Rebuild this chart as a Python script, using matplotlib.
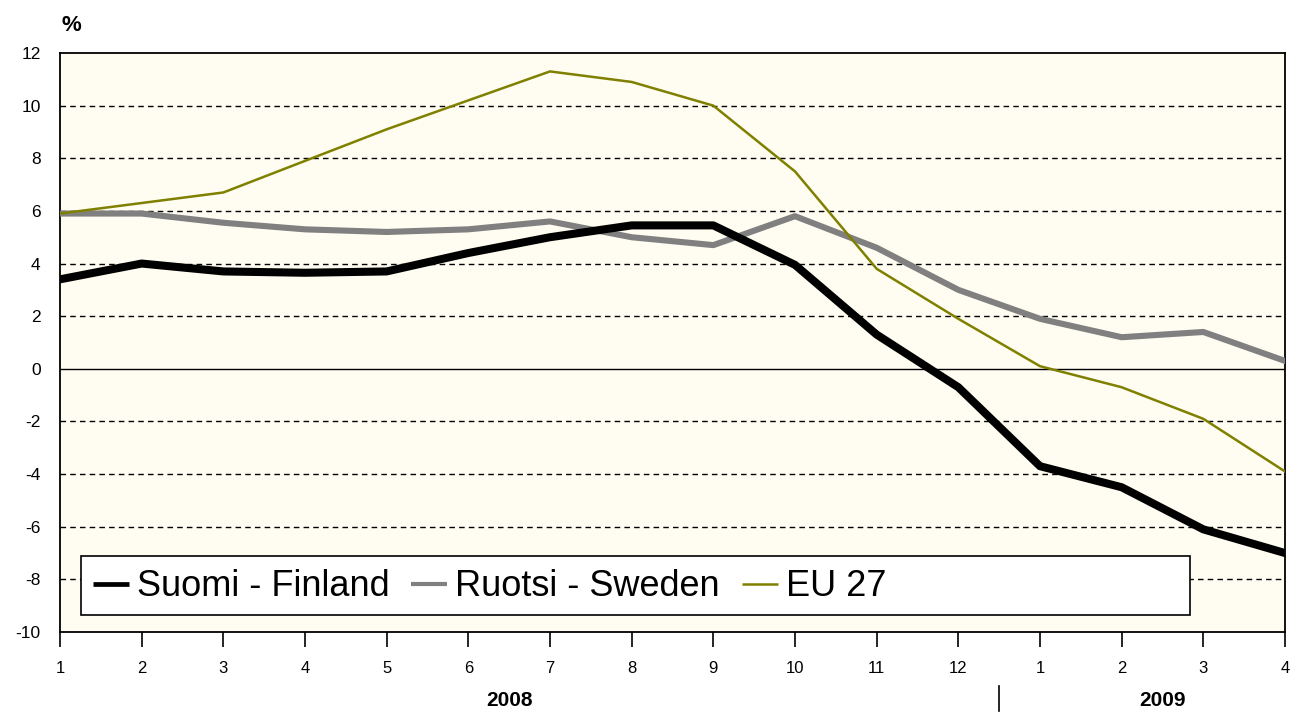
import numpy as np
import matplotlib
matplotlib.use('Agg')
import matplotlib.pyplot as plt
from matplotlib.patches import Rectangle
from matplotlib.lines import Line2D

# months: Jan 2008 .. Apr 2009
month_labels = ['1', '2', '3', '4', '5', '6', '7', '8', '9', '10', '11', '12',
                '1', '2', '3', '4']
finland = [3.4, 4.0, 3.7, 3.65, 3.7, 4.4, 5.0, 5.45, 5.45, 3.95, 1.3, -0.7,
           -3.7, -4.5, -6.1, -7.0]
sweden = [5.9, 5.9, 5.55, 5.3, 5.2, 5.3, 5.6, 5.0, 4.7, 5.8, 4.6, 3.0,
          1.9, 1.2, 1.4, 0.3]
eu27 = [5.9, 6.3, 6.7, 7.9, 9.1, 10.2, 11.3, 10.9, 10.0, 7.5, 3.8, 1.9,
        0.1, -0.7, -1.9, -3.9]
names = ['Suomi - Finland', 'Ruotsi - Sweden', 'EU 27']
years = ['2008', '2009']
year_centers = [6.5, 14.5]

plt.rcParams['font.family'] = ['Liberation Sans', 'DejaVu Sans']

x = np.arange(1, len(month_labels) + 1)

fig = plt.figure(figsize=(12.91, 7.13), dpi=100)
ax = fig.add_axes([60 / 1291, 81 / 713, 1225 / 1291, 579 / 713])
ax.set_facecolor('#fffdf1')

for yv in range(-8, 12, 2):
    if yv == 0:
        ax.axhline(0, color='black', lw=1.0, zorder=1)
    else:
        ax.axhline(yv, color='black', lw=1.0, ls=(0, (4, 3)), zorder=1)

ax.plot(x, finland, color='black', lw=5.8, zorder=4, solid_joinstyle='round')
ax.plot(x, sweden, color='#808080', lw=4.4, zorder=3, solid_joinstyle='round')
ax.plot(x, eu27, color='#808000', lw=1.8, zorder=5)

ax.set_xlim(1, 16)
ax.set_ylim(-10, 12)
ax.set_xticks(x)
ax.set_xticklabels(month_labels, fontsize=12)
ax.set_yticks(range(-10, 13, 2))
ax.set_yticklabels([str(v) for v in range(-10, 13, 2)], fontsize=12.5)
ax.tick_params(axis='x', direction='out', length=11, width=1.2, pad=10)
ax.tick_params(axis='y', length=0, pad=14)
for s in ax.spines.values():
    s.set_color('black')
    s.set_linewidth(1.3)

ax.text(0.001, 1.03, '%', transform=ax.transAxes, fontsize=16,
        fontweight='bold', ha='left', va='bottom')

for yr, xc in zip(years, year_centers):
    ax.text(xc, -0.118, yr, transform=ax.get_xaxis_transform(), fontsize=15,
            fontweight='bold', ha='center', va='center',
            family=['Liberation Sans Narrow', 'Liberation Sans'])
ax.plot([12.5, 12.5], [-0.093, -0.137], color='black', lw=1.2,
        transform=ax.get_xaxis_transform(), clip_on=False)

# legend box (wider than its entries, as in the original)
box = Rectangle((21 / 1225, 17 / 579), 1109 / 1225, 59 / 579,
                transform=ax.transAxes, facecolor='white', edgecolor='black',
                lw=1.2, zorder=6)
ax.add_patch(box)
handles = [Line2D([], [], color='black', lw=3.4, solid_capstyle='butt'),
           Line2D([], [], color='#808080', lw=3.0, solid_capstyle='butt'),
           Line2D([], [], color='#808000', lw=1.8, solid_capstyle='butt')]
leg = ax.legend(handles, names, loc='center left',
                bbox_to_anchor=(33 / 1225, 45 / 579),
                ncol=3, fontsize=26, frameon=False,
                handlelength=1.0, handletextpad=0.22, columnspacing=0.6,
                borderpad=0.0, borderaxespad=0)
leg.set_zorder(7)

fig.savefig('out.png', dpi=100)
